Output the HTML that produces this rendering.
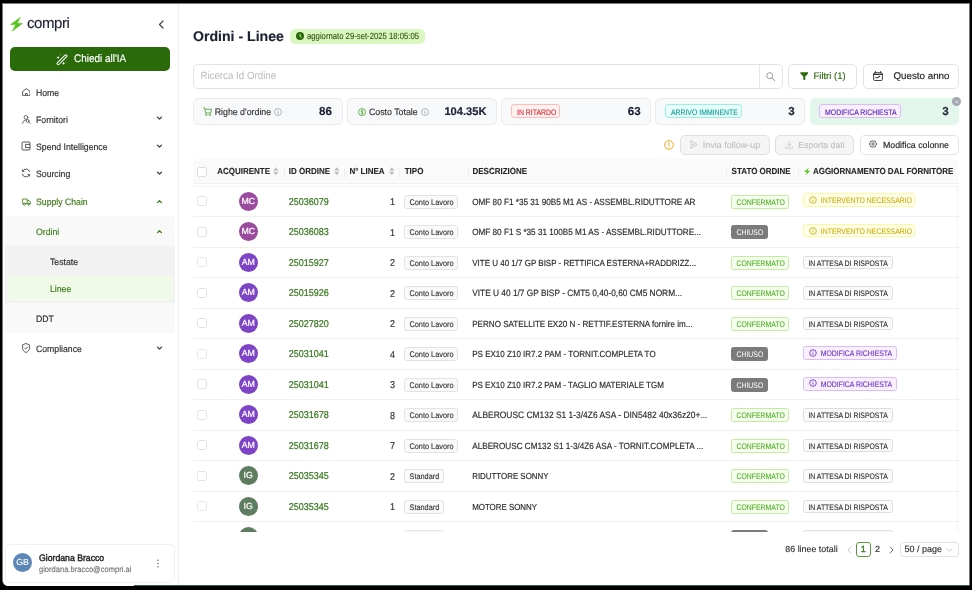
<!DOCTYPE html>
<html><head><meta charset="utf-8">
<style>
*{box-sizing:border-box;margin:0;padding:0}
html,body{width:972px;height:590px;overflow:hidden;background:#000}

.layer{position:absolute;left:0;top:0;width:972px;height:590px;will-change:transform;-webkit-text-stroke:0.15px currentColor}
body{font-family:"Liberation Sans",sans-serif;color:#262626;position:relative;text-rendering:geometricPrecision}
.frame{position:absolute;left:2px;top:3px;width:968px;height:583px;background:#7a7a7a;border-bottom-left-radius:6px}
.page{position:absolute;left:3px;top:4px;width:966px;height:582px;background:#fff;overflow:hidden;border-bottom-left-radius:5.5px}
.a{position:absolute;white-space:nowrap}
.side-border{position:absolute;left:178px;top:4px;width:1px;height:581px;background:#efefef}
.nav{font-size:8.7px;color:#2e2e2e;line-height:14.4px;transform:scaleY(1.07)}
.ico{position:absolute}
.grp1{position:absolute;left:5px;top:216px;width:170px;height:117px;background:#f9f9f9}
.grp2{position:absolute;left:5px;top:246px;width:170px;height:57px;background:#f2f2f2}
.linee-hl{position:absolute;left:8px;top:276px;width:165px;height:25px;background:#f1f9e8;border-radius:4px}
.green{color:#3d7a1a}
</style></head>
<body><div class="layer">
<div class="frame"></div>
<div class="page"></div>
<div style="position:absolute;left:134px;top:585px;width:836px;height:1px;background:#3a5454"></div>


<style>
.card{position:absolute;top:98.3px;height:26.3px;width:149.5px;background:#f8f9fb;border:1px solid #ebebeb;border-radius:5px}
.ktxt{position:absolute;font-size:8.8px;line-height:12px;color:#333;top:106.1px;transform:scaleY(1.06)}
.knum{position:absolute;font-size:11.6px;line-height:14px;color:#1b2133;font-weight:bold;top:105.4px;text-align:right}
.ktag{position:absolute;top:104.4px;height:14.1px;border:1px solid;border-radius:3px;font-size:6.9px;line-height:18px;padding-left:4.8px;white-space:nowrap;-webkit-text-stroke-width:0.12px}
.sy{display:inline-block;transform:scaleY(1.16)}
.sy2{display:inline-block;transform:scaleY(1.1)}
.btn{position:absolute;border:1px solid #e3e3e3;border-radius:5px;background:#fff}
.th{position:absolute;top:166.3px;font-size:8px;line-height:11px;font-weight:bold;color:#262626;white-space:nowrap;-webkit-text-stroke-width:0.1px;transform:scaleY(1.1)}
.sep{position:absolute;top:165.5px;width:1px;height:12.3px;background:#efefef}
.cb{position:absolute;width:10px;height:10px;border:1px solid #e3e3e3;border-radius:2.5px;background:#fff}
.av{position:absolute;width:19.3px;height:19.3px;border-radius:50%;color:#fff;font-size:8.8px;line-height:19.3px;text-align:center;-webkit-text-stroke-width:0.2px}
.id{position:absolute;font-size:9px;line-height:12px;color:#35781b;white-space:nowrap;transform:scaleY(1.1);-webkit-text-stroke-width:0.2px}
.ln{position:absolute;font-size:9px;line-height:12px;color:#333;text-align:right;width:20px;transform:scaleY(1.1)}
.tt{position:absolute;height:14px;border:1px solid #e3e3e3;background:#fafafa;border-radius:2.5px;font-size:7.35px;line-height:13.4px;padding-left:4.2px;color:#333;white-space:nowrap;-webkit-text-stroke-width:0.12px}
.desc{position:absolute;font-size:8.15px;line-height:11px;color:#2b2b2b;white-space:nowrap;transform:scaleY(1.1)}
.st{position:absolute;height:14px;border:1px solid;border-radius:2.5px;font-size:6.9px;line-height:15px;padding-left:4.2px;white-space:nowrap;-webkit-text-stroke-width:0.08px}
.rl{position:absolute;left:193px;width:766px;height:1px;background:#f0f0f0}
.sort{position:absolute;width:5px;height:8px}
</style>
<!-- SIDEBAR -->
<div class="side-border"></div>
<svg class="ico" style="left:9.5px;top:17px" width="13" height="14.5" viewBox="0 0 13 14.5"><path d="M10.3 0.6 L0.7 7.6 L6 7.6 L2.4 13.9 L12.2 6.5 L6.8 6.5 Z" fill="#52c41a" stroke="#52c41a" stroke-width="0.7" stroke-linejoin="round"/></svg>
<div class="a" style="left:27px;top:15px;font-size:15px;line-height:18px;color:#1b2133;letter-spacing:-0.45px">compri</div>
<svg class="ico" style="left:158px;top:20px" width="6" height="9" viewBox="0 0 6 9"><path d="M5 1 L1.5 4.5 L5 8" fill="none" stroke="#444" stroke-width="1.25" stroke-linecap="round" stroke-linejoin="round"/></svg>

<div class="a" style="left:10px;top:47px;width:160px;height:24px;background:#2b6a0a;border-radius:5px"></div>
<svg class="ico" style="left:56px;top:53.5px" width="12" height="12" viewBox="0 0 12 12"><rect x="-6.4" y="-1.15" width="12.8" height="2.3" rx="0.9" transform="translate(6 5.8) rotate(-45)" stroke="#fff" stroke-width="1" fill="none"/><path d="M2.1 1.9 L2.6 3 L3.7 3.5 L2.6 4 L2.1 5.1 L1.6 4 L0.5 3.5 L1.6 3 Z M7.6 7.7 L8.1 8.8 L9.2 9.3 L8.1 9.8 L7.6 10.9 L7.1 9.8 L6 9.3 L7.1 8.8 Z" fill="#fff"/><path d="M3.9 0.4 L4.5 1.2 L5.1 0.4 M10.3 6.6 L10.3 7.2 M10.6 8 L10.6 8.3" stroke="#fff" stroke-width="0.6" fill="none" opacity="0.7"/></svg>
<div class="a" style="left:74px;top:52.8px;font-size:9.95px;line-height:14px;color:#fff;transform:scaleY(1.1)">Chiedi all'IA</div>

<!-- nav -->
<svg class="ico" style="left:21.6px;top:87.6px" width="8.6" height="8.4" viewBox="0 0 8.6 8.4"><g fill="none" stroke="#444" stroke-width="0.9" stroke-linejoin="round"><path d="M0.6 3.5 L4.3 0.6 L8 3.5 V7.8 H0.6 Z"/><path d="M3.4 7.8 V5.6 H5.2 V7.8"/></g></svg>
<div class="a nav" style="left:36px;top:86px">Home</div>

<svg class="ico" style="left:21.5px;top:114.5px" width="9" height="9" viewBox="0 0 9 9"><g fill="none" stroke="#555" stroke-width="0.85" stroke-linecap="round"><circle cx="4" cy="2.4" r="1.9"/><path d="M0.6 8.4 C0.8 6.2 2 5 4 5"/><circle cx="5.6" cy="5.9" r="1.5"/><path d="M6.7 7 L8.3 8.5"/></g></svg>
<div class="a nav" style="left:36px;top:113px">Fornitori</div>
<svg class="ico" style="left:156px;top:115.7px" width="7" height="5" viewBox="0 0 7 5"><path d="M1.6 1.2 L3.5 3.1 L5.4 1.2" fill="none" stroke="#444" stroke-width="1.25" stroke-linecap="round" stroke-linejoin="round"/></svg>

<svg class="ico" style="left:21px;top:141px" width="10" height="10" viewBox="0 0 10 10"><g fill="none" stroke="#444" stroke-width="0.9"><rect x="1" y="1" width="8" height="8" rx="1"/><path d="M9 3.4 H4.6 V6.6 H9"/></g></svg>
<div class="a nav" style="left:36px;top:140px">Spend Intelligence</div>
<svg class="ico" style="left:156px;top:143.7px" width="7" height="5" viewBox="0 0 7 5"><path d="M1.6 1.2 L3.5 3.1 L5.4 1.2" fill="none" stroke="#444" stroke-width="1.25" stroke-linecap="round" stroke-linejoin="round"/></svg>

<svg class="ico" style="left:21px;top:168px" width="10" height="10" viewBox="0 0 10 10"><g fill="none" stroke="#444" stroke-width="0.9"><path d="M8.7 4 A3.8 3.8 0 0 0 1.6 3.2"/><path d="M1.3 6 A3.8 3.8 0 0 0 8.4 6.8"/><path d="M1.4 1.4 V3.4 H3.4 M8.6 8.6 V6.6 H6.6"/></g></svg>
<div class="a nav" style="left:36px;top:167px">Sourcing</div>
<svg class="ico" style="left:156px;top:170.7px" width="7" height="5" viewBox="0 0 7 5"><path d="M1.6 1.2 L3.5 3.1 L5.4 1.2" fill="none" stroke="#444" stroke-width="1.25" stroke-linecap="round" stroke-linejoin="round"/></svg>

<svg class="ico" style="left:21.5px;top:197.5px" width="9" height="8" viewBox="0 0 9 8"><g fill="none" stroke="#3d7a1a" stroke-width="0.85" stroke-linejoin="round"><path d="M0.6 1 H5.2 V5.6 H0.6 Z M5.2 2.6 H7.2 L8.4 4 V5.6 H5.2"/><circle cx="2.4" cy="6.2" r="1" fill="#fff"/><circle cx="6.8" cy="6.2" r="1" fill="#fff"/></g></svg>
<div class="a nav green" style="left:36px;top:195px">Supply Chain</div>
<svg class="ico" style="left:156px;top:198.7px" width="7" height="5" viewBox="0 0 7 5"><path d="M1.6 3.6 L3.5 1.7 L5.4 3.6" fill="none" stroke="#3d7a1a" stroke-width="1.25" stroke-linecap="round" stroke-linejoin="round"/></svg>

<div class="grp1"></div>
<div class="grp2"></div>
<div class="linee-hl"></div>
<div class="a nav green" style="left:36px;top:225px">Ordini</div>
<svg class="ico" style="left:156px;top:228.7px" width="7" height="5" viewBox="0 0 7 5"><path d="M1.6 3.6 L3.5 1.7 L5.4 3.6" fill="none" stroke="#3d7a1a" stroke-width="1.25" stroke-linecap="round" stroke-linejoin="round"/></svg>
<div class="a nav" style="left:50px;top:255px">Testate</div>
<div class="a nav green" style="left:50px;top:282px">Linee</div>
<div class="a nav" style="left:36px;top:312px">DDT</div>

<svg class="ico" style="left:22px;top:343px" width="8" height="10" viewBox="0 0 8 10"><g fill="none" stroke="#555" stroke-width="0.95" stroke-linejoin="round"><path d="M4 0.5 L7.4 1.8 V5.2 C7.4 7.3 5.8 8.8 4 9.5 C2.2 8.8 0.6 7.3 0.6 5.2 V1.8 Z"/><path d="M2.5 5.1 L3.6 6.2 L5.6 3.8"/></g></svg>
<div class="a nav" style="left:36px;top:342px">Compliance</div>
<svg class="ico" style="left:156px;top:345.7px" width="7" height="5" viewBox="0 0 7 5"><path d="M1.6 1.2 L3.5 3.1 L5.4 1.2" fill="none" stroke="#444" stroke-width="1.25" stroke-linecap="round" stroke-linejoin="round"/></svg>

<!-- user card -->
<div class="a" style="left:5px;top:544px;width:170px;height:38.8px;border:1px solid #f0f0f0;border-radius:5px;background:#fff"></div>
<div class="a" style="left:13px;top:553px;width:19px;height:19px;border-radius:50%;background:#5b86b5;color:#fff;font-size:8.8px;line-height:19px;text-align:center;-webkit-text-stroke-width:0.12px">GB</div>
<div class="a" style="left:39px;top:552.2px;font-size:8.7px;line-height:12px;color:#262626;transform:scaleY(1.08);-webkit-text-stroke-width:0.4px">Giordana Bracco</div>
<div class="a" style="left:39px;top:563.5px;font-size:7.56px;line-height:11px;color:#777;transform:scaleY(1.08)">giordana.bracco@compri.ai</div>
<svg class="ico" style="left:156px;top:559px" width="4" height="9" viewBox="0 0 4 9"><g fill="#777"><circle cx="2" cy="1.2" r="0.8"/><circle cx="2" cy="4.5" r="0.8"/><circle cx="2" cy="7.8" r="0.8"/></g></svg>

<!-- MAIN -->
<div class="a" style="left:193px;top:27px;font-size:14.1px;line-height:18px;font-weight:bold;color:#1b2133">Ordini - Linee</div>
<div class="a" style="left:289.8px;top:28.9px;width:135.4px;height:14.8px;background:#d9f7be;border-radius:5px"></div>
<svg class="ico" style="left:296px;top:32.3px" width="8" height="8" viewBox="0 0 8 8"><circle cx="4" cy="4" r="4" fill="#2b6a0a"/><path d="M4 1.8 V4.2 L5.6 5.2" stroke="#d9f7be" stroke-width="0.9" fill="none"/></svg>
<div class="a" style="left:307px;top:32.3px;font-size:7.73px;line-height:10.4px;color:#2b5512;transform:scaleY(1.17);-webkit-text-stroke-width:0.1px">aggiornato 29-set-2025 18:05:05</div>
<div class="btn" style="left:193.2px;top:64px;width:589.5px;height:24.5px"></div>
<div class="a" style="left:759px;top:65px;width:1px;height:22.6px;background:#e6e6e6"></div>
<div class="a" style="left:200.4px;top:70.6px;font-size:9.74px;line-height:12px;color:#bdbdbd;-webkit-text-stroke-width:0.05px;transform:scaleY(1.08)">Ricerca Id Ordine</div>
<svg class="ico" style="left:765.8px;top:71.6px" width="9.5" height="9.5" viewBox="0 0 9.5 9.5"><circle cx="3.7" cy="3.6" r="3" fill="none" stroke="#8c8c8c" stroke-width="0.9"/><path d="M5.9 5.8 L8.9 8.9" stroke="#8c8c8c" stroke-width="0.95" stroke-linecap="round"/></svg>
<div class="btn" style="left:787.6px;top:64px;width:69.7px;height:24.5px"></div>
<svg class="ico" style="left:799.5px;top:71.5px" width="8.6" height="8.4" viewBox="0 0 8.6 8.4"><path d="M0.2 1 Q0.2 0.2 1 0.2 H7.6 Q8.4 0.2 8.4 1 Q8.4 1.3 8 1.7 L5.3 4.6 V7.4 Q4.3 8.4 3.3 7.6 V4.6 L0.6 1.7 Q0.2 1.3 0.2 1 Z" fill="#2b6a0a"/></svg>
<div class="a" style="left:813.5px;top:70.7px;font-size:9.47px;line-height:12px;color:#2b6a0a">Filtri (1)</div>
<div class="btn" style="left:863.3px;top:64px;width:95.3px;height:24.5px"></div>
<svg class="ico" style="left:873px;top:71px" width="10" height="10" viewBox="0 0 10 10"><g fill="none" stroke="#333" stroke-linecap="round"><rect x="0.6" y="1.7" width="8.8" height="7.8" rx="1.3" stroke-width="0.9"/><path d="M0.8 3.4 H9.2" stroke-width="1.3"/><path d="M2.4 0.4 V1.8 M7.6 0.4 V1.8" stroke-width="0.9"/><path d="M2.7 6.7 H4.6 L6.6 5.3" stroke-width="1.1"/></g></svg>
<div class="a" style="left:893.4px;top:70.7px;font-size:9.81px;line-height:12px;color:#262626">Questo anno</div>
<div class="card" style="left:193px;background:#f8f9fb;border-color:#ebebeb"></div>
<div class="card" style="left:347.2px;background:#f8f9fb;border-color:#ebebeb"></div>
<div class="card" style="left:501.3px;background:#f8f9fb;border-color:#ebebeb"></div>
<div class="card" style="left:655.4px;background:#f8f9fb;border-color:#ebebeb"></div>
<div class="card" style="left:809.6px;background:#e3f6eb;border-color:#e3f6eb"></div>
<svg class="ico" style="left:203px;top:107.3px" width="9" height="9" viewBox="0 0 9 9"><g fill="none" stroke="#52a43a" stroke-width="0.9"><path d="M0.2 0.8 H1.6 L2.6 6 H7.6 L8.5 2.2 H2"/><circle cx="3.2" cy="7.8" r="0.7"/><circle cx="7" cy="7.8" r="0.7"/></g></svg>
<div class="ktxt" style="left:214.7px">Righe d'ordine</div>
<svg class="ico" style="left:274.4px;top:107.6px" width="8" height="8" viewBox="0 0 8 8"><circle cx="4" cy="4" r="3.5" fill="none" stroke="#999" stroke-width="0.7"/><path d="M4 3.4 V6 M4 2 V2.7" stroke="#999" stroke-width="0.8"/></svg>
<div class="knum" style="left:292px;width:40px">86</div>
<svg class="ico" style="left:357.8px;top:107.6px" width="8.2" height="8.2" viewBox="0 0 8 8"><circle cx="4" cy="4" r="3.5" fill="none" stroke="#52a43a" stroke-width="0.8"/><path d="M5.3 2.8 C5 2.2 3 2 2.9 3.2 C2.9 4.2 5.2 3.8 5.2 4.9 C5.2 6 3.2 6 2.7 5.2 M4 1.5 V6.5" fill="none" stroke="#52a43a" stroke-width="0.7"/></svg>
<div class="ktxt" style="left:368.9px">Costo Totale</div>
<svg class="ico" style="left:421px;top:107.6px" width="8" height="8" viewBox="0 0 8 8"><circle cx="4" cy="4" r="3.5" fill="none" stroke="#999" stroke-width="0.7"/><path d="M4 3.4 V6 M4 2 V2.7" stroke="#999" stroke-width="0.8"/></svg>
<div class="knum" style="left:430px;width:56.5px;font-size:11.14px">104.35K</div>
<div class="ktag" style="left:511.2px;width:48.6px;background:#fff1f0;border-color:#ffbcb8;color:#d4303a"><span class="sy">IN RITARDO</span></div>
<div class="knum" style="left:600px;width:40.6px">63</div>
<div class="ktag" style="left:665.1px;width:77.4px;background:#e6fffb;border-color:#a0ece2;color:#17a0a0"><span class="sy">ARRIVO IMMINENTE</span></div>
<div class="knum" style="left:760px;width:34.6px">3</div>
<div class="ktag" style="left:819.3px;width:82px;background:#f9f0ff;border-color:#dcbcf7;color:#5a25b0"><span class="sy">MODIFICA RICHIESTA</span></div>
<div class="knum" style="left:910px;width:38.8px">3</div>
<div class="a" style="left:951.5px;top:96.8px;width:9.6px;height:9.6px;border-radius:50%;background:#a3a8b3"></div>
<svg class="ico" style="left:951.5px;top:96.8px" width="9.6" height="9.6" viewBox="0 0 10 10"><path d="M3.6 3.6 L6.4 6.4 M6.4 3.6 L3.6 6.4" stroke="#e8eaee" stroke-width="0.9"/></svg>
<svg class="ico" style="left:664px;top:139.8px" width="10" height="10" viewBox="0 0 10 10"><circle cx="5" cy="5" r="4.3" fill="none" stroke="#f5a623" stroke-width="1"/><path d="M5 2.6 V5.6 M5 6.6 V7.4" stroke="#f5a623" stroke-width="1.1"/></svg>
<div class="btn" style="left:680px;top:134.6px;width:89.5px;height:20px;background:#f5f5f5;border-color:#e0e0e0"></div>
<svg class="ico" style="left:689.8px;top:140px" width="8" height="9" viewBox="0 0 8 9"><path d="M0.6 0.6 L7.4 4.5 L0.6 8.4 L1.8 4.5 Z M1.8 4.5 H4.5" fill="none" stroke="#c0c0c0" stroke-width="0.8"/></svg>
<div class="a" style="left:702.8px;top:139px;font-size:9px;line-height:12px;color:#bfbfbf;-webkit-text-stroke-width:0.1px">Invia follow-up</div>
<div class="btn" style="left:774.8px;top:134.6px;width:79px;height:20px;background:#f5f5f5;border-color:#e0e0e0"></div>
<svg class="ico" style="left:784.5px;top:139.5px" width="8.5" height="9" viewBox="0 0 9 9"><path d="M4.5 0.5 V6 M2.2 3.8 L4.5 6 L6.8 3.8 M0.6 6.5 V8.3 H8.4 V6.5" fill="none" stroke="#c0c0c0" stroke-width="0.8"/></svg>
<div class="a" style="left:798.3px;top:139px;font-size:8.68px;line-height:12px;color:#bfbfbf;-webkit-text-stroke-width:0.1px">Esporta dati</div>
<div class="btn" style="left:859.5px;top:134.7px;width:99.1px;height:20px"></div>
<svg class="ico" style="left:869.1px;top:140px" width="8" height="8" viewBox="0 0 8 8"><g fill="none" stroke="#333" stroke-width="0.75"><circle cx="4" cy="4" r="1.2"/><path d="M4 0.5 L4.9 1.3 L6.1 1.1 L6.4 2.3 L7.5 3 L7 4 L7.5 5 L6.4 5.7 L6.1 6.9 L4.9 6.7 L4 7.5 L3.1 6.7 L1.9 6.9 L1.6 5.7 L0.5 5 L1 4 L0.5 3 L1.6 2.3 L1.9 1.1 L3.1 1.3 Z"/></g></svg>
<div class="a" style="left:882.9px;top:139px;font-size:8.82px;line-height:12px;color:#262626">Modifica colonne</div>
<div class="a" style="left:193px;top:159.3px;width:766px;height:24px;background:#fafafa;border-radius:5px 5px 0 0"></div>
<div class="a" style="left:193px;top:183.3px;width:766px;height:1px;background:#f0f0f0"></div>
<div class="a" style="left:193px;top:185.8px;width:766px;height:1px;background:#f3f3f3"></div>
<div class="cb" style="left:197.4px;top:166.6px;border-color:#dadada"></div>
<div class="th" style="left:217.2px">ACQUIRENTE</div>
<svg class="ico" style="left:273.3px;top:167.2px" width="5.6" height="8.4" viewBox="0 0 5.6 8.4"><path d="M0.4 3.4 L2.8 0.5 L5.2 3.4 Z M0.4 5 L2.8 7.9 L5.2 5 Z" fill="#bdbdbd" stroke="#bdbdbd" stroke-width="0.3" stroke-linejoin="round"/></svg>
<div class="sep" style="left:284px"></div>
<div class="th" style="left:288.8px">ID ORDINE</div>
<svg class="ico" style="left:333.7px;top:167.2px" width="5.6" height="8.4" viewBox="0 0 5.6 8.4"><path d="M0.4 3.4 L2.8 0.5 L5.2 3.4 Z M0.4 5 L2.8 7.9 L5.2 5 Z" fill="#bdbdbd" stroke="#bdbdbd" stroke-width="0.3" stroke-linejoin="round"/></svg>
<div class="sep" style="left:344px"></div>
<div class="th" style="left:349.4px">N° LINEA</div>
<svg class="ico" style="left:388.7px;top:167.2px" width="5.6" height="8.4" viewBox="0 0 5.6 8.4"><path d="M0.4 3.4 L2.8 0.5 L5.2 3.4 Z M0.4 5 L2.8 7.9 L5.2 5 Z" fill="#bdbdbd" stroke="#bdbdbd" stroke-width="0.3" stroke-linejoin="round"/></svg>
<div class="sep" style="left:399.3px"></div>
<div class="th" style="left:404.7px">TIPO</div>
<div class="sep" style="left:467.6px"></div>
<div class="th" style="left:472.5px">DESCRIZIONE</div>
<div class="sep" style="left:726px"></div>
<div class="th" style="left:731.6px">STATO ORDINE</div>
<div class="sep" style="left:797.6px"></div>
<svg class="ico" style="left:803.8px;top:166.6px" width="6.6" height="9" viewBox="0 0 12 14"><path d="M8.6 0.4 L0.2 8.1 L5.2 8.1 L2.6 13.8 L11.6 5.6 L6.4 5.6 Z" fill="#52c41a"/></svg>
<div class="th" style="left:812.9px">AGGIORNAMENTO DAL FORNITORE</div>
<div class="a" style="left:193px;top:186.3px;width:766px;height:345.5px;overflow:hidden"><div style="position:absolute;left:-193px;top:-186.3px;width:972px;height:590px"><div class="cb" style="left:197.4px;top:196.20px"></div><div class="av" style="left:238.6px;top:191.60px;background:#9a4b9d">MC</div><div class="id" style="left:288.8px;top:195.65px">25036079</div><div class="ln" style="left:375px;top:196.10px">1</div><div class="tt" style="left:404.3px;top:194.60px;width:53.4px"><span class="sy2">Conto Lavoro</span></div><div class="desc" style="left:472.2px;top:196.70px;font-size:8.18px">OMF 80 F1 *35 31 90B5 M1 AS - ASSEMBL.RIDUTTORE AR</div><div class="st" style="left:731.3px;top:194.50px;width:58px;background:#f6ffed;border-color:#c2eda0;color:#4bb022"><span class="sy">CONFERMATO</span></div><div class="st" style="left:803.3px;top:193.10px;width:111.7px;height:13.9px;background:#feffe6;border-color:#fdf7a0;color:#cfab0c;padding-left:16.5px;line-height:16.4px"><svg class="ico" style="position:absolute;left:4.6px;top:2.0px" width="8" height="8" viewBox="0 0 8 8"><circle cx="4" cy="4" r="3.3" fill="none" stroke="#cfab0c" stroke-width="0.85"/><path d="M4 3.6 V5.6" stroke="#cfab0c" stroke-width="0.9"/><circle cx="4" cy="2.5" r="0.45" fill="#cfab0c"/></svg><span class="sy">INTERVENTO NECESSARIO</span></div><div class="rl" style="top:216.30px"></div><div class="cb" style="left:197.4px;top:226.70px"></div><div class="av" style="left:238.6px;top:222.10px;background:#9a4b9d">MC</div><div class="id" style="left:288.8px;top:226.15px">25036083</div><div class="ln" style="left:375px;top:226.60px">1</div><div class="tt" style="left:404.3px;top:225.10px;width:53.4px"><span class="sy2">Conto Lavoro</span></div><div class="desc" style="left:472.2px;top:227.20px;font-size:8.16px">OMF 80 F1 S *35 31 100B5 M1 AS - ASSEMBL.RIDUTTORE...</div><div class="st" style="left:731.3px;top:225.00px;width:36.4px;background:#7b7b7b;border-color:#7b7b7b;color:#f2f2f2"><span class="sy">CHIUSO</span></div><div class="st" style="left:803.3px;top:223.60px;width:111.7px;height:13.9px;background:#feffe6;border-color:#fdf7a0;color:#cfab0c;padding-left:16.5px;line-height:16.4px"><svg class="ico" style="position:absolute;left:4.6px;top:2.0px" width="8" height="8" viewBox="0 0 8 8"><circle cx="4" cy="4" r="3.3" fill="none" stroke="#cfab0c" stroke-width="0.85"/><path d="M4 3.6 V5.6" stroke="#cfab0c" stroke-width="0.9"/><circle cx="4" cy="2.5" r="0.45" fill="#cfab0c"/></svg><span class="sy">INTERVENTO NECESSARIO</span></div><div class="rl" style="top:246.80px"></div><div class="cb" style="left:197.4px;top:257.20px"></div><div class="av" style="left:238.6px;top:252.60px;background:#7d44c6">AM</div><div class="id" style="left:288.8px;top:256.65px">25015927</div><div class="ln" style="left:375px;top:257.10px">2</div><div class="tt" style="left:404.3px;top:255.60px;width:53.4px"><span class="sy2">Conto Lavoro</span></div><div class="desc" style="left:472.2px;top:257.70px;font-size:8.01px">VITE U 40 1/7 GP BISP - RETTIFICA ESTERNA+RADDRIZZ...</div><div class="st" style="left:731.3px;top:255.50px;width:58px;background:#f6ffed;border-color:#c2eda0;color:#4bb022"><span class="sy">CONFERMATO</span></div><div class="st" style="left:803.2px;top:255.90px;width:90.3px;height:13.4px;background:#fafafa;border-color:#dedede;color:#262626"><span class="sy">IN ATTESA DI RISPOSTA</span></div><div class="rl" style="top:277.30px"></div><div class="cb" style="left:197.4px;top:287.70px"></div><div class="av" style="left:238.6px;top:283.10px;background:#7d44c6">AM</div><div class="id" style="left:288.8px;top:287.15px">25015926</div><div class="ln" style="left:375px;top:287.60px">2</div><div class="tt" style="left:404.3px;top:286.10px;width:53.4px"><span class="sy2">Conto Lavoro</span></div><div class="desc" style="left:472.2px;top:288.20px;font-size:8.34px">VITE U 40 1/7 GP BISP - CMT5 0,40-0,60 CM5 NORM...</div><div class="st" style="left:731.3px;top:286.00px;width:58px;background:#f6ffed;border-color:#c2eda0;color:#4bb022"><span class="sy">CONFERMATO</span></div><div class="st" style="left:803.2px;top:286.40px;width:90.3px;height:13.4px;background:#fafafa;border-color:#dedede;color:#262626"><span class="sy">IN ATTESA DI RISPOSTA</span></div><div class="rl" style="top:307.80px"></div><div class="cb" style="left:197.4px;top:318.20px"></div><div class="av" style="left:238.6px;top:313.60px;background:#7d44c6">AM</div><div class="id" style="left:288.8px;top:317.65px">25027820</div><div class="ln" style="left:375px;top:318.10px">2</div><div class="tt" style="left:404.3px;top:316.60px;width:53.4px"><span class="sy2">Conto Lavoro</span></div><div class="desc" style="left:472.2px;top:318.70px;font-size:8.08px">PERNO SATELLITE EX20 N - RETTIF.ESTERNA fornire im...</div><div class="st" style="left:731.3px;top:316.50px;width:58px;background:#f6ffed;border-color:#c2eda0;color:#4bb022"><span class="sy">CONFERMATO</span></div><div class="st" style="left:803.2px;top:316.90px;width:90.3px;height:13.4px;background:#fafafa;border-color:#dedede;color:#262626"><span class="sy">IN ATTESA DI RISPOSTA</span></div><div class="rl" style="top:338.30px"></div><div class="cb" style="left:197.4px;top:348.70px"></div><div class="av" style="left:238.6px;top:344.10px;background:#7d44c6">AM</div><div class="id" style="left:288.8px;top:348.15px">25031041</div><div class="ln" style="left:375px;top:348.60px">4</div><div class="tt" style="left:404.3px;top:347.10px;width:53.4px"><span class="sy2">Conto Lavoro</span></div><div class="desc" style="left:472.2px;top:349.20px;font-size:8.04px">PS EX10 Z10 IR7.2 PAM - TORNIT.COMPLETA TO</div><div class="st" style="left:731.3px;top:347.00px;width:36.4px;background:#7b7b7b;border-color:#7b7b7b;color:#f2f2f2"><span class="sy">CHIUSO</span></div><div class="st" style="left:803.2px;top:346.00px;width:94.3px;height:14px;background:#f9f0ff;border-color:#dcbcf7;color:#6a2fc0;padding-left:16.5px;line-height:15px"><svg class="ico" style="position:absolute;left:4.6px;top:1.6px" width="8" height="8" viewBox="0 0 8 8"><circle cx="4" cy="4" r="3.3" fill="none" stroke="#6a2fc0" stroke-width="0.85"/><path d="M4 3.6 V5.6" stroke="#6a2fc0" stroke-width="0.9"/><circle cx="4" cy="2.5" r="0.45" fill="#6a2fc0"/></svg><span class="sy">MODIFICA RICHIESTA</span></div><div class="rl" style="top:368.80px"></div><div class="cb" style="left:197.4px;top:379.20px"></div><div class="av" style="left:238.6px;top:374.60px;background:#7d44c6">AM</div><div class="id" style="left:288.8px;top:378.65px">25031041</div><div class="ln" style="left:375px;top:379.10px">3</div><div class="tt" style="left:404.3px;top:377.60px;width:53.4px"><span class="sy2">Conto Lavoro</span></div><div class="desc" style="left:472.2px;top:379.70px;font-size:8.02px">PS EX10 Z10 IR7.2 PAM - TAGLIO MATERIALE TGM</div><div class="st" style="left:731.3px;top:377.50px;width:36.4px;background:#7b7b7b;border-color:#7b7b7b;color:#f2f2f2"><span class="sy">CHIUSO</span></div><div class="st" style="left:803.2px;top:376.50px;width:94.3px;height:14px;background:#f9f0ff;border-color:#dcbcf7;color:#6a2fc0;padding-left:16.5px;line-height:15px"><svg class="ico" style="position:absolute;left:4.6px;top:1.6px" width="8" height="8" viewBox="0 0 8 8"><circle cx="4" cy="4" r="3.3" fill="none" stroke="#6a2fc0" stroke-width="0.85"/><path d="M4 3.6 V5.6" stroke="#6a2fc0" stroke-width="0.9"/><circle cx="4" cy="2.5" r="0.45" fill="#6a2fc0"/></svg><span class="sy">MODIFICA RICHIESTA</span></div><div class="rl" style="top:399.30px"></div><div class="cb" style="left:197.4px;top:409.70px"></div><div class="av" style="left:238.6px;top:405.10px;background:#7d44c6">AM</div><div class="id" style="left:288.8px;top:409.15px">25031678</div><div class="ln" style="left:375px;top:409.60px">8</div><div class="tt" style="left:404.3px;top:408.10px;width:53.4px"><span class="sy2">Conto Lavoro</span></div><div class="desc" style="left:472.2px;top:410.20px;font-size:8.43px">ALBEROUSC CM132 S1 1-3/4Z6 ASA - DIN5482 40x36z20+...</div><div class="st" style="left:731.3px;top:408.00px;width:58px;background:#f6ffed;border-color:#c2eda0;color:#4bb022"><span class="sy">CONFERMATO</span></div><div class="st" style="left:803.2px;top:408.40px;width:90.3px;height:13.4px;background:#fafafa;border-color:#dedede;color:#262626"><span class="sy">IN ATTESA DI RISPOSTA</span></div><div class="rl" style="top:429.80px"></div><div class="cb" style="left:197.4px;top:440.20px"></div><div class="av" style="left:238.6px;top:435.60px;background:#7d44c6">AM</div><div class="id" style="left:288.8px;top:439.65px">25031678</div><div class="ln" style="left:375px;top:440.10px">7</div><div class="tt" style="left:404.3px;top:438.60px;width:53.4px"><span class="sy2">Conto Lavoro</span></div><div class="desc" style="left:472.2px;top:440.70px;font-size:8.18px">ALBEROUSC CM132 S1 1-3/4Z6 ASA - TORNIT.COMPLETA ...</div><div class="st" style="left:731.3px;top:438.50px;width:58px;background:#f6ffed;border-color:#c2eda0;color:#4bb022"><span class="sy">CONFERMATO</span></div><div class="st" style="left:803.2px;top:438.90px;width:90.3px;height:13.4px;background:#fafafa;border-color:#dedede;color:#262626"><span class="sy">IN ATTESA DI RISPOSTA</span></div><div class="rl" style="top:460.30px"></div><div class="cb" style="left:197.4px;top:470.70px"></div><div class="av" style="left:238.6px;top:466.10px;background:#5e7c5f">IG</div><div class="id" style="left:288.8px;top:470.15px">25035345</div><div class="ln" style="left:375px;top:470.60px">2</div><div class="tt" style="left:404.3px;top:469.10px;width:39.3px"><span class="sy2">Standard</span></div><div class="desc" style="left:472.2px;top:471.20px;font-size:7.92px">RIDUTTORE SONNY</div><div class="st" style="left:731.3px;top:469.00px;width:58px;background:#f6ffed;border-color:#c2eda0;color:#4bb022"><span class="sy">CONFERMATO</span></div><div class="st" style="left:803.2px;top:469.40px;width:90.3px;height:13.4px;background:#fafafa;border-color:#dedede;color:#262626"><span class="sy">IN ATTESA DI RISPOSTA</span></div><div class="rl" style="top:490.80px"></div><div class="cb" style="left:197.4px;top:501.20px"></div><div class="av" style="left:238.6px;top:496.60px;background:#5e7c5f">IG</div><div class="id" style="left:288.8px;top:500.65px">25035345</div><div class="ln" style="left:375px;top:501.10px">1</div><div class="tt" style="left:404.3px;top:499.60px;width:39.3px"><span class="sy2">Standard</span></div><div class="desc" style="left:472.2px;top:501.70px;font-size:7.91px">MOTORE SONNY</div><div class="st" style="left:731.3px;top:499.50px;width:58px;background:#f6ffed;border-color:#c2eda0;color:#4bb022"><span class="sy">CONFERMATO</span></div><div class="st" style="left:803.2px;top:499.90px;width:90.3px;height:13.4px;background:#fafafa;border-color:#dedede;color:#262626"><span class="sy">IN ATTESA DI RISPOSTA</span></div><div class="rl" style="top:521.30px"></div><div class="av" style="left:238.6px;top:527.10px;background:#5e7c5f">IG</div><div class="id" style="left:288.8px;top:531.15px">25035346</div><div class="ln" style="left:375px;top:531.60px">1</div><div class="tt" style="left:404.3px;top:530.10px;width:39.3px"><span class="sy2">Standard</span></div><div class="desc" style="left:472.2px;top:532.20px;font-size:7.91px">MOTORE SONNY</div><div class="st" style="left:731.3px;top:530.00px;width:36.4px;background:#7b7b7b;border-color:#7b7b7b;color:#f2f2f2"><span class="sy">CHIUSO</span></div><div class="st" style="left:803.2px;top:530.40px;width:90.3px;height:13.4px;background:#fafafa;border-color:#dedede;color:#262626"><span class="sy">IN ATTESA DI RISPOSTA</span></div></div></div>
<div class="a" style="left:955px;top:186px;width:4px;height:345px;background:linear-gradient(to right,rgba(0,0,0,0),rgba(0,0,0,0.03))"></div>
<div class="a" style="left:785.3px;top:542.9px;font-size:8.89px;line-height:12px;color:#333">86 linee totali</div>
<svg class="ico" style="left:847px;top:545.5px" width="5" height="8" viewBox="0 0 5 8"><path d="M4 0.8 L1 4 L4 7.2" fill="none" stroke="#bbb" stroke-width="0.8"/></svg>
<div class="a" style="left:856px;top:542px;width:14.7px;height:14.6px;border:1px solid #5c9a40;border-radius:3px;font-size:9px;line-height:12.4px;text-align:center;color:#3a7a1e;-webkit-text-stroke-width:0.35px">1</div>
<div class="a" style="left:875px;top:542.9px;font-size:9px;line-height:12px;color:#333">2</div>
<svg class="ico" style="left:889px;top:545.5px" width="5" height="8" viewBox="0 0 5 8"><path d="M1 0.8 L4 4 L1 7.2" fill="none" stroke="#444" stroke-width="0.8"/></svg>
<div class="a" style="left:900px;top:542px;width:58.8px;height:14.8px;border:1px solid #e3e3e3;border-radius:3px"></div>
<div class="a" style="left:904.5px;top:542.9px;font-size:9px;line-height:12px;color:#333">50 / page</div>
<svg class="ico" style="left:946px;top:547.5px" width="7" height="4" viewBox="0 0 7 4"><path d="M0.6 0.6 L3.5 3.3 L6.4 0.6" fill="none" stroke="#bbb" stroke-width="0.8"/></svg>
</div></body></html>
